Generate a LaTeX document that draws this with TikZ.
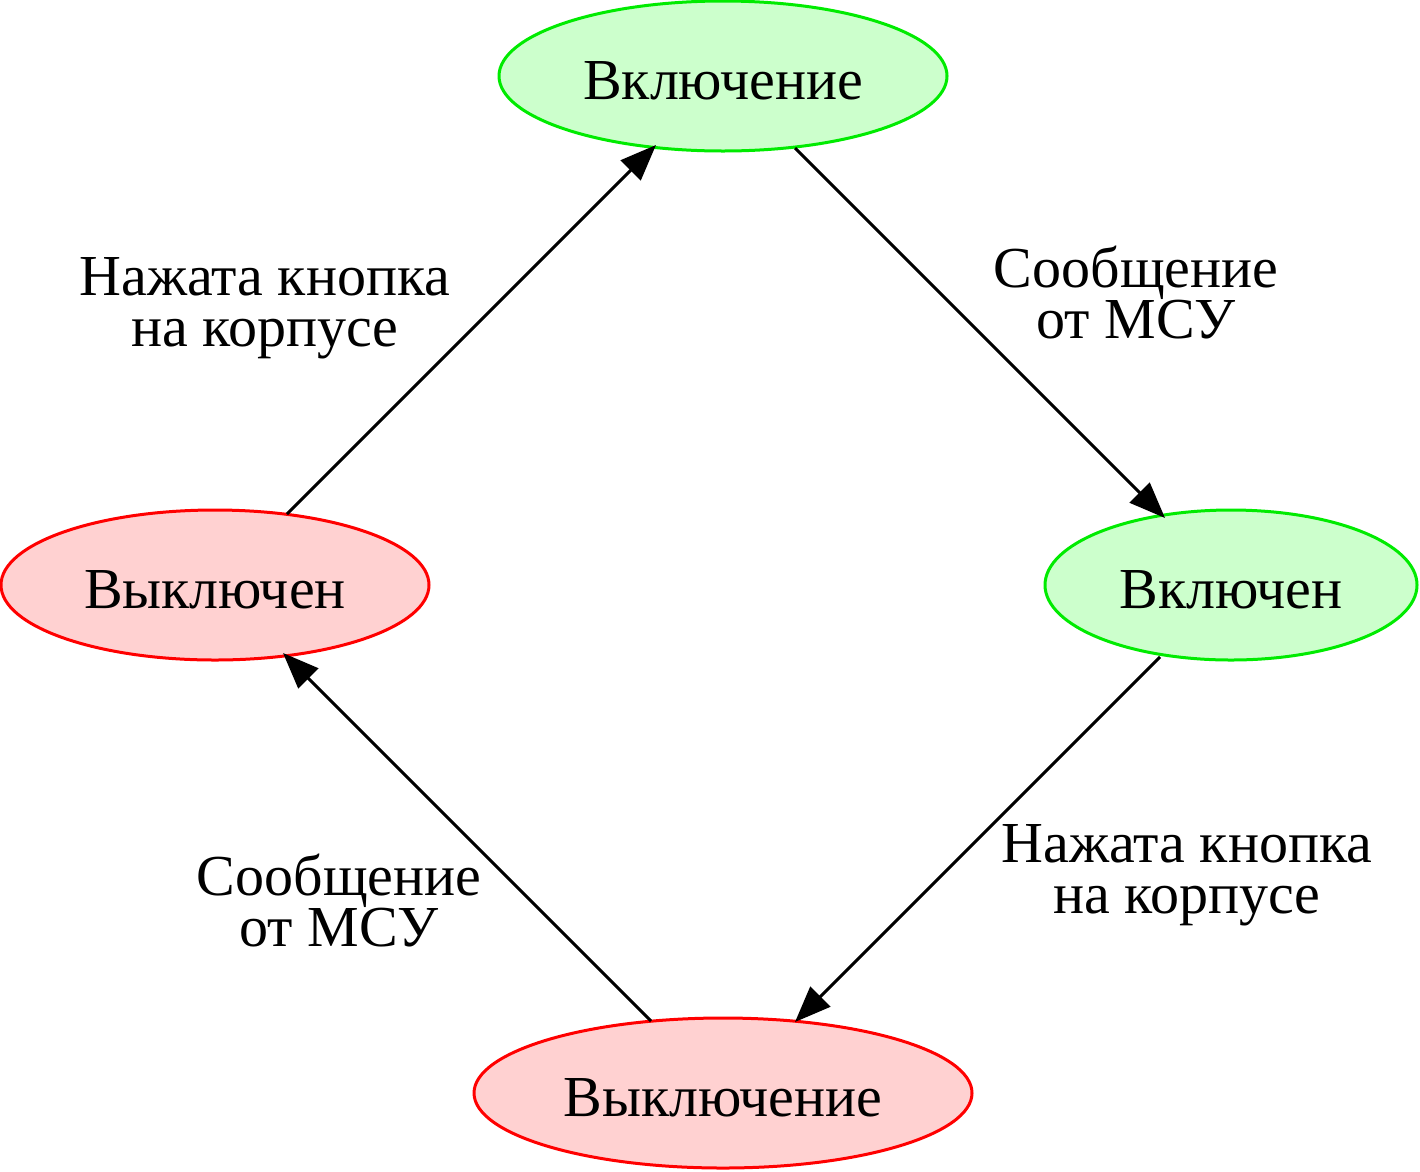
\documentclass[tikz,border=0pt]{standalone}
\usepackage{fontspec}
\setmainfont{Liberation Serif}
\usetikzlibrary{shapes.geometric,arrows.meta}
\newcommand{\stxt}[1]{\raisebox{-23pt}[0pt][0pt]{#1}}
\begin{document}
\begin{tikzpicture}[x=1pt,y=-1pt,
  st/.style={ellipse,draw,line width=3pt,inner sep=0pt},
  lbl/.style={font=\fontsize{58}{51}\selectfont,align=center},
  edge/.style={line width=3pt,-{Triangle[length=36pt,width=28pt]}},
  every node/.style={font=\fontsize{58}{51}\selectfont}]
\useasboundingbox (0,0) rectangle (1420,1171);
\definecolor{gon}{RGB}{0,235,0}
\definecolor{gfill}{RGB}{204,255,204}
\definecolor{roff}{RGB}{255,0,0}
\definecolor{rfill}{RGB}{255,209,209}
\tikzset{on/.style={st,draw=gon,fill=gfill},off/.style={st,draw=roff,fill=rfill}}
\node[on,minimum width=448pt,minimum height=150pt] (vkl) at (723,76) {\stxt{Включение}};
\node[on,minimum width=372pt,minimum height=150pt] (vkln) at (1231,585) {\stxt{Включен}};
\node[off,minimum width=428pt,minimum height=150pt] (vykln) at (215,585) {\stxt{Выключен}};
\node[off,minimum width=498pt,minimum height=150pt] (vykl) at (723,1093) {\stxt{Выключение}};
\draw[edge] (287,514) -- (656,145);
\draw[edge] (795,148) -- (1165,518);
\draw[edge] (1160,657) -- (795,1022);
\draw[edge] (651,1021) -- (283,653);
\node[lbl] (l1) at (265,308) {Нажата кнопка\\на корпусе};
\node[lbl] (l2) at (1136,293) {Сообщение\\от МСУ};
\node[lbl] (l3) at (1187,875) {Нажата кнопка\\на корпусе};
\node[lbl] (l4) at (339,901) {Сообщение\\от МСУ};
\end{tikzpicture}
\end{document}
